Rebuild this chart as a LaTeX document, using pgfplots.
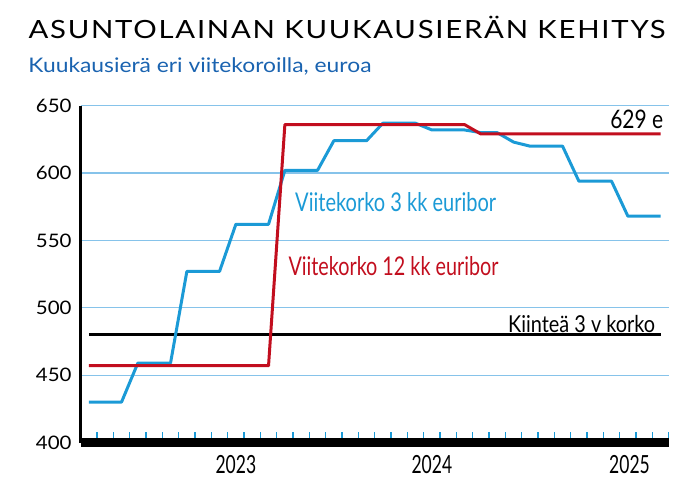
\documentclass[border=0pt]{standalone}
\usepackage{pgfplots}
\pgfplotsset{compat=1.18}
\usepackage{fontspec}
\setmainfont{Lato}
\newfontfamily\titlefont[LetterSpace=6]{Lato}
\definecolor{lineblue}{HTML}{1B9AD6}
\definecolor{linered}{HTML}{C20E1E}
\definecolor{gridblue}{HTML}{86C3EA}
\definecolor{subblue}{HTML}{1A63B0}
\newcommand{\cond}[1]{\scalebox{0.7}[1]{#1}}
\newcommand{\wid}[1]{\scalebox{1.1}[1]{#1}}
\begin{document}
\begin{tikzpicture}
\path[use as bounding box] (0,0) rectangle (700bp,-503bp);
\begin{axis}[
  at={(80.7bp,-442.5bp)}, anchor=south west,
  scale only axis, width=588bp, height=336.8bp,
  xmin=0, xmax=36, ymin=400, ymax=650,
  axis lines=left, axis line style={-},
  x axis line style={line width=9bp, black},
  y axis line style={line width=3bp, black},
  ytick={400,450,500,550,600,650},
  yticklabels={\wid{400},\wid{450},\wid{500},\wid{550},\wid{600},\wid{650}},
  ymajorgrids, grid style={gridblue, line width=1.2bp},
  xtick={9.5,21.5,33.6}, xticklabels={\cond{2023},\cond{2024},\cond{2025}},
  minor xtick={1,...,36},
  tick align=inside,
  major tick length=0pt, minor tick length=10.5bp,
  minor tick style={lineblue, line width=1.3bp},
  yticklabel style={font=\fontsize{18.6bp}{20bp}\selectfont, anchor=east, inner sep=0pt, xshift=-9bp},
  xticklabel style={font=\fontsize{25bp}{28bp}\selectfont, anchor=base, inner sep=0pt, yshift=-30.5bp},
  /pgf/number format/assume math mode=true,
  clip=false,
]
\addplot[black, line width=3bp] coordinates {(0.5,480) (35.5,480)};
\addplot[lineblue, line width=3bp, line join=round] coordinates {
(0.5,430) (1.5,430) (2.5,430) (3.5,459) (4.5,459) (5.5,459)
(6.5,527) (7.5,527) (8.5,527) (9.5,562) (10.5,562) (11.5,562)
(12.5,602) (13.5,602) (14.5,602) (15.5,624) (16.5,624) (17.5,624)
(18.5,637) (19.5,637) (20.5,637) (21.5,632) (22.5,632) (23.5,632)
(24.5,630) (25.5,630) (26.5,623) (27.5,620) (28.5,620) (29.5,620)
(30.5,594) (31.5,594) (32.5,594) (33.5,568) (34.5,568) (35.5,568)};
\addplot[linered, line width=3bp, line join=round] coordinates {
(0.5,457) (1.5,457) (2.5,457) (3.5,457) (4.5,457) (5.5,457)
(6.5,457) (7.5,457) (8.5,457) (9.5,457) (10.5,457) (11.5,457)
(12.5,636) (13.5,636) (14.5,636) (15.5,636) (16.5,636) (17.5,636)
(18.5,636) (19.5,636) (20.5,636) (21.5,636) (22.5,636) (23.5,636)
(24.5,629) (25.5,629) (26.5,629) (27.5,629) (28.5,629) (29.5,629)
(30.5,629) (31.5,629) (32.5,629) (33.5,629) (34.5,629) (35.5,629)};
\end{axis}
\node[anchor=base west, inner sep=0pt] at (28.3bp,-38bp)
  {\resizebox{637bp}{\height}{\titlefont\fontsize{25.1bp}{30bp}\selectfont ASUNTOLAINAN KUUKAUSIERÄN KEHITYS}};
\node[anchor=base west, inner sep=0pt, text=subblue] at (28.3bp,-72.7bp)
  {\resizebox{343bp}{\height}{\fontsize{20.1bp}{24bp}\selectfont Kuukausierä eri viitekoroilla, euroa}};
\node[anchor=base west, inner sep=0pt, text=lineblue] at (295bp,-211.7bp)
  {\resizebox{201bp}{\height}{\fontsize{25.8bp}{30bp}\selectfont Viitekorko 3 kk euribor}};
\node[anchor=base west, inner sep=0pt, text=linered] at (288.3bp,-275bp)
  {\resizebox{210bp}{\height}{\fontsize{25.8bp}{30bp}\selectfont Viitekorko 12 kk euribor}};
\node[anchor=base west, inner sep=0pt] at (508bp,-332.3bp)
  {\resizebox{147bp}{\height}{\fontsize{23.3bp}{28bp}\selectfont Kiinteä 3 v korko}};
\node[anchor=base east, inner sep=0pt] at (663.5bp,-128.3bp)
  {\resizebox{53bp}{\height}{\fontsize{25.5bp}{30bp}\selectfont 629 e}};
\end{tikzpicture}
\end{document}
